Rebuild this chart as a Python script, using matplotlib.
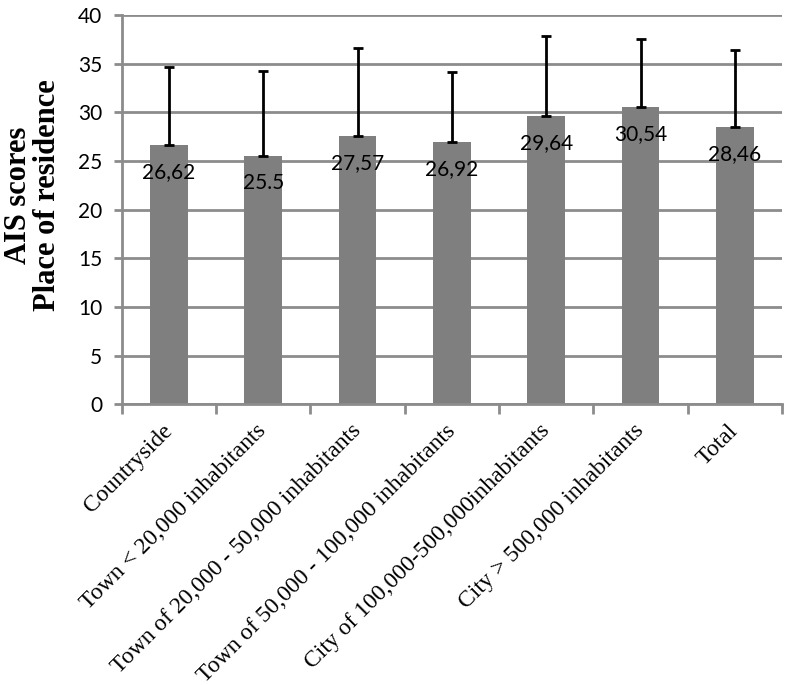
import numpy as np
import matplotlib
matplotlib.use("Agg")
import matplotlib.pyplot as plt
from matplotlib.ticker import MultipleLocator, FixedLocator

# data
categories = ["Countryside", "Town < 20,000 inhabitants", "Town of 20,000 - 50,000 inhabitants",
              "Town of 50,000 - 100,000 inhabitants", "City of 100,000-500,000inhabitants",
              "City > 500,000 inhabitants", "Total"]
means = [26.62, 25.5, 27.57, 26.92, 29.64, 30.54, 28.46]
sds = [8.0, 8.8, 9.0, 7.2, 8.2, 7.0, 7.9]
value_labels = ["26,62", "25.5", "27,57", "26,92", "29,64", "30,54", "28,46"]

grey = "#8c8c8c"
fig = plt.figure(figsize=(7.86, 6.85), dpi=100)
ax = fig.add_axes([0.155, 0.410, 0.840, 0.568])

x = np.arange(len(categories))
ax.bar(x, means, width=0.4, color="#7f7f7f", zorder=2)
ax.errorbar(x, means, yerr=[np.zeros(len(sds)), sds], fmt="none", ecolor="black",
            elinewidth=2, capsize=3.5, capthick=2, zorder=3)

for xi, m, lab in zip(x, means, value_labels):
    ax.annotate(lab, (xi, m), xytext=(0, -19.5), textcoords="offset points",
                ha="center", va="center", fontsize=15, family="Lato", zorder=4)

ax.set_ylim(0, 40)
ax.set_xlim(-0.5, len(categories) - 0.5)
ax.yaxis.set_major_locator(MultipleLocator(5))
ax.grid(axis="y", color=grey, linewidth=2, zorder=1)
ax.set_axisbelow(True)

for s in ["top", "right"]:
    ax.spines[s].set_visible(False)
for s in ["left", "bottom"]:
    ax.spines[s].set_color(grey)
    ax.spines[s].set_linewidth(2)

ax.tick_params(axis="y", length=6, width=2, color=grey, labelsize=15, pad=8)
for t in ax.get_yticklabels():
    t.set_family("Lato")

ax.set_xticks(x)
ax.set_xticklabels(categories, rotation=45, ha="right", va="center",
                   rotation_mode="anchor", family="Liberation Serif", fontsize=17)
ax.tick_params(axis="x", which="major", length=0, pad=17)
ax.xaxis.set_minor_locator(FixedLocator(np.arange(-0.5, len(categories), 1.0)))
ax.tick_params(axis="x", which="minor", length=7, width=2, color=grey)

ax.set_ylabel("AIS scores\nPlace of residence", family="Liberation Serif",
              fontweight="bold", fontsize=22, linespacing=1.0)
ax.yaxis.set_label_coords(-0.091, 0.537)

fig.savefig("out.png", dpi=100)
